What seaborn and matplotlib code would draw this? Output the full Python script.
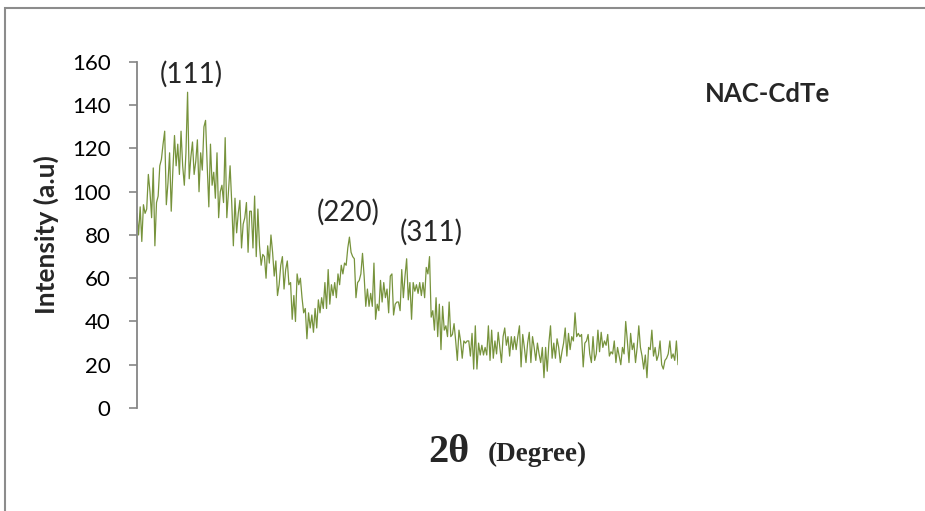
import numpy as np
import matplotlib
matplotlib.use("Agg")
import matplotlib.pyplot as plt
from matplotlib.patches import Rectangle
import seaborn as sns

# XRD scan of NAC-capped CdTe: intensity per scan point (a.u.)
scan_part1 = [90, 80, 93, 77, 94, 90, 92, 108, 100, 88, 111, 75, 95, 98, 112, 115, 122,
              128, 94, 104, 118, 91, 110, 126, 112, 122, 108, 128, 112, 103, 118, 146, 106, 116,
              123, 108, 114, 124, 100, 118, 110, 130, 133, 112, 93, 122, 103, 109, 97, 118, 88, 100,
              103, 95, 125, 88, 100, 112, 95, 75, 97, 81, 90, 96, 74, 85, 88, 95, 72, 91]
scan_part2 = [91, 74, 98, 70, 92, 75, 66, 71, 70, 60, 75, 67, 80, 72, 61, 68, 52, 57, 66, 70, 55, 64,
              68, 57, 58, 41, 52, 40, 62, 57, 60, 51, 44, 46, 32, 44, 37, 43, 35, 46, 37, 50, 44, 51,
              46, 58, 46, 64, 48, 57, 52, 58, 51, 62, 57, 66, 62, 67, 66, 74, 79, 72, 70, 69, 51, 58]
scan_part3 = [59, 62, 71.5, 61, 47, 55, 47, 53, 47, 67, 41, 48, 45, 59, 49, 58, 51, 55, 44, 61, 62, 43,
              48, 49, 49, 45, 64, 51, 61, 69, 50, 58, 41, 58, 54, 57, 53, 58, 52, 58, 51, 65, 62, 70,
              42, 45, 36, 51, 33, 48, 27, 47, 36, 38, 33, 49, 33, 34, 39, 31, 22, 36, 31, 23, 31, 30, 31]
scan_part4 = [31, 24, 34.5, 18, 38, 18, 30, 24.5, 29, 24.5, 28, 24.5, 38, 22, 36, 23, 31, 25, 35, 28, 21,
              33, 37, 29, 33, 24, 33, 27, 33, 27, 33, 38, 19, 34, 28, 21, 30, 35, 21, 33, 28, 22, 30,
              25, 21, 28, 14, 28, 17, 30, 38, 23, 30, 23, 32, 28, 21, 26, 30, 37, 24, 34.5, 27, 33, 31,
              44, 33, 34.5]
scan_part5 = [33, 34, 19, 30, 31, 34, 25, 21, 33, 22, 25, 36, 26, 35, 28, 31, 29, 34, 24, 26, 25, 31,
              21, 28, 24, 20, 28, 25, 40, 31, 21, 34.5, 27, 30, 21, 28, 38, 28, 24, 18, 24.5, 14, 28,
              27, 36, 24, 28, 22, 24.5, 31, 20, 18, 22, 23, 25, 31, 23, 25, 22, 31, 20]

intensity = scan_part1 + scan_part2 + scan_part3 + scan_part4 + scan_part5
scan_point = np.arange(len(intensity))

y_ticks = [0, 20, 40, 60, 80, 100, 120, 140, 160]
peak_labels = ["(111)", "(220)", "(311)"]
sample_name = "NAC-CdTe"

sns.set_theme(style="white")
plt.rcParams["font.family"] = ["Lato", "DejaVu Sans"]

fig = plt.figure(figsize=(9.25, 5.11), dpi=100)
ax = fig.add_axes([0.148, 0.2016, 0.585, 0.6771])

sns.lineplot(x=scan_point, y=intensity, ax=ax, color="#77933C", linewidth=0.9)

ax.set_xlim(scan_point[0], scan_point[-1])
ax.set_ylim(0, 160)
ax.set_yticks(y_ticks)
ax.set_yticklabels([str(t) for t in y_ticks], fontsize=16, color="#000000")
ax.set_xticks([])
ax.tick_params(axis="y", direction="out", length=6, width=1.2, color="#868686", pad=13, left=True)
for side in ("top", "right", "bottom"):
    ax.spines[side].set_visible(False)
ax.spines["left"].set_color("#868686")
ax.spines["left"].set_linewidth(1.3)
ax.set_xlabel("")
ax.set_ylabel("")

# Axis titles
fig.text(0.050, 0.54, "Intensity (a.u)", rotation=90, ha="center", va="center",
         fontsize=19, fontweight="bold")
fig.text(0.485, 0.115, "2\u03b8", ha="center", va="center", fontsize=29, fontweight="bold",
         family=["Liberation Serif", "DejaVu Serif"])
fig.text(0.581, 0.110, "(Degree)", ha="center", va="center", fontsize=19.5, fontweight="bold",
         family=["Liberation Serif", "DejaVu Serif"])

# Reflection labels and sample name
fig.text(0.2065, 0.855, peak_labels[0], ha="center", va="center", fontsize=20)
fig.text(0.376, 0.585, peak_labels[1], ha="center", va="center", fontsize=20)
fig.text(0.466, 0.546, peak_labels[2], ha="center", va="center", fontsize=20)
fig.text(0.830, 0.816, sample_name, ha="center", va="center", fontsize=18.5, fontweight="bold")

# Chart frame
fig.patches.append(Rectangle((5 / 925, -0.05), 1.0, 1.05 - 8 / 511, transform=fig.transFigure,
                             fill=False, edgecolor="#8C8C8C", linewidth=1.5))

fig.savefig("out.png", dpi=100)
